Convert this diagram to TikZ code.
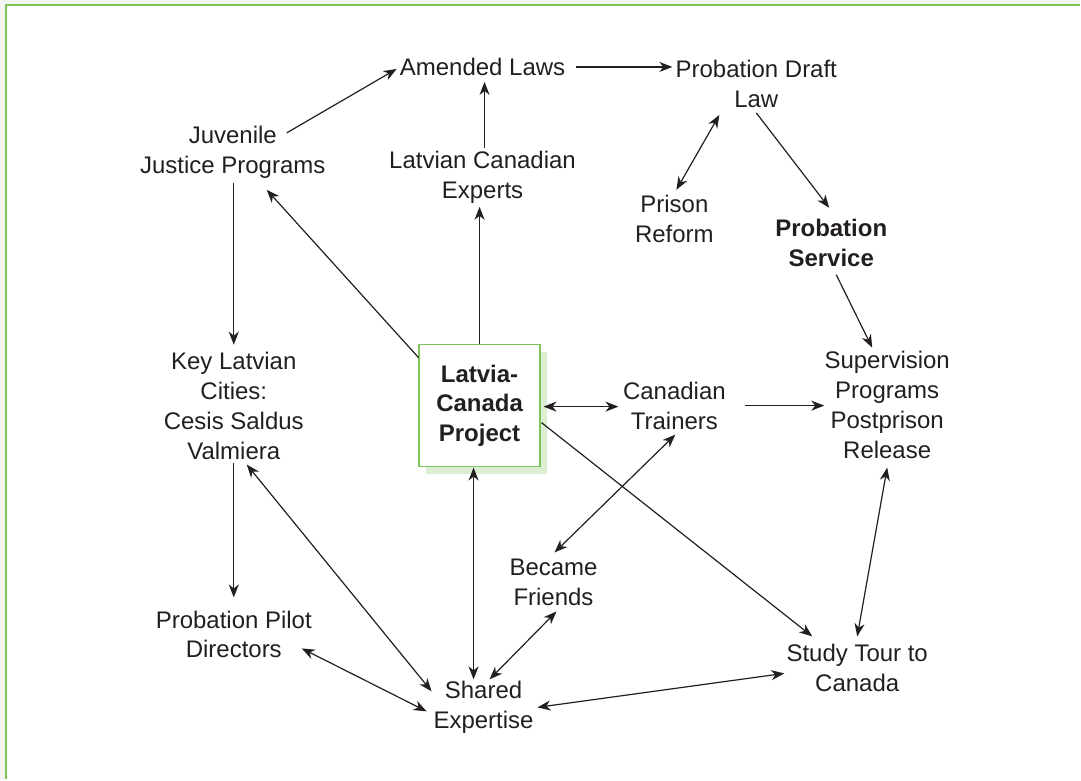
\documentclass[tikz,border=0pt]{standalone}
\usepackage{fontspec}
\setmainfont{Liberation Sans}
\usetikzlibrary{arrows.meta, shadows}
\definecolor{frameGreen}{HTML}{7CC552}
\definecolor{boxGreen}{HTML}{80C35E}
\definecolor{shadowGreen}{HTML}{DDEFD2}
\definecolor{inkDark}{HTML}{231F20}
\definecolor{pageGray}{HTML}{F3F3F3}

\begin{document}
\begin{tikzpicture}[x=0.5pt, y=-0.5pt,
    lbl/.style={align=center, font=\fontsize{12}{15}\selectfont, text=inkDark, inner sep=0pt},
    tipx/.tip={Stealth[length=6.5pt, width=5pt, inset=2pt]},
    arr/.style={-tipx, line width=0.6pt, draw=inkDark},
    darr/.style={tipx-tipx, line width=0.6pt, draw=inkDark}]
    % page and frame
    \fill[pageGray] (0,0) rectangle (1081,780);
    \fill[white] (6,5) rectangle (1081,780);
    \draw[frameGreen, line width=1pt] (6,780) -- (6,5) -- (1081,5);
    \useasboundingbox (0,0) rectangle (1081,780);

    % labels
    \node[lbl] (juv) at (233,152) {Juvenile\\Justice Programs};
    \node[lbl] (amend) at (483,67) {Amended Laws};
    \node[lbl] (draft) at (757,84) {Probation Draft\\Law};
    \node[lbl] (experts) at (483,177) {Latvian Canadian\\Experts};
    \node[lbl] (prison) at (675,219) {Prison\\Reform};
    \node[lbl, font=\fontsize{12}{15}\selectfont\bfseries] (service) at (832,243) {Probation\\Service};
    \node[lbl] (cities) at (234,406) {Key Latvian\\Cities:\\Cesis Saldus\\Valmiera};
    \node[lbl, draw=boxGreen, line width=0.65pt, fill=white, minimum width=60.5pt, minimum height=61pt,
          font=\fontsize{12}{14.75}\selectfont\bfseries,
          drop shadow={shadow xshift=3.5pt, shadow yshift=-3.5pt, fill=shadowGreen, opacity=1}]
          (proj) at (480,406) {Latvia-\\Canada\\Project};
    \node[lbl] (trainers) at (675,406) {Canadian\\Trainers};
    \node[lbl] (superv) at (888,405) {Supervision\\Programs\\Postprison\\Release};
    \node[lbl] (friends) at (554,583) {Became\\Friends};
    \node[lbl] (pilot) at (234,635) {Probation Pilot\\Directors};
    \node[lbl] (shared) at (484,708) {Shared\\Expertise};
    \node[lbl] (tour) at (858,669) {Study Tour to\\Canada};

    % connectors
    \draw[arr] ([shift={(54,-19)}]juv.center) -- ([shift={(-86,2)}]amend.center);
    \draw[arr] ([shift={(94,0)}]amend.center) -- ([shift={(-84,-17)}]draft.center);
    \draw[arr] ([shift={(2,-29)}]experts.center) -- ([shift={(2,15)}]amend.center);
    \draw[arr] (proj.north) -- ([shift={(-3,30)}]experts.center);
    \draw[arr] ([shift={(-61,-48)}]proj.center) -- ([shift={(34,38)}]juv.center);
    \draw[arr] ([shift={(1,31)}]juv.center) -- ([shift={(0,-61)}]cities.center);
    \draw[darr] ([shift={(2,-29)}]prison.center) -- ([shift={(-37,31)}]draft.center);
    \draw[arr] ([shift={(0,29)}]draft.center) -- ([shift={(-2,-35)}]service.center);
    \draw[arr] ([shift={(5,32)}]service.center) -- ([shift={(-15,-57)}]superv.center);
    \draw[darr] ([shift={(64,1)}]proj.center) -- ([shift={(-56,1)}]trainers.center);
    \draw[arr] ([shift={(71,0)}]trainers.center) -- ([shift={(-63,1)}]superv.center);
    \draw[darr] ([shift={(1,29)}]trainers.center) -- ([shift={(1,-30)}]friends.center);
    \draw[arr] ([shift={(62,17)}]proj.center) -- ([shift={(-45,-32)}]tour.center);
    \draw[darr] ([shift={(0,63)}]superv.center) -- ([shift={(0,-32)}]tour.center);
    \draw[darr] ([shift={(13,59)}]cities.center) -- ([shift={(-52,-16)}]shared.center);
    \draw[arr] ([shift={(0,57)}]cities.center) -- ([shift={(0,-37)}]pilot.center);
    \draw[darr] ([shift={(-6,62)}]proj.center) -- ([shift={(-10,-28)}]shared.center);
    \draw[darr] ([shift={(3,29)}]friends.center) -- ([shift={(6,-28)}]shared.center);
    \draw[darr] ([shift={(68,14)}]pilot.center) -- ([shift={(-57,4)}]shared.center);
    \draw[darr] ([shift={(54,0)}]shared.center) -- ([shift={(-73,5)}]tour.center);
\end{tikzpicture}
\end{document}
